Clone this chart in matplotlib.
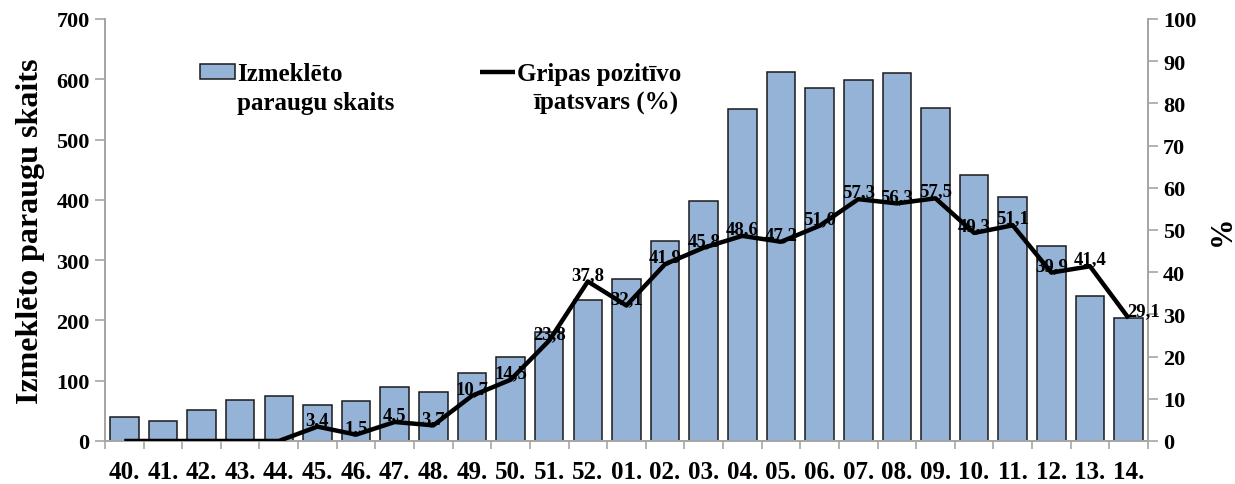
import numpy as np
import matplotlib
matplotlib.use("Agg")
import matplotlib.pyplot as plt

plt.rcParams["font.family"] = ["Liberation Serif", "DejaVu Serif"]
plt.rcParams["font.weight"] = "bold"

weeks = ["40.", "41.", "42.", "43.", "44.", "45.", "46.", "47.", "48.", "49.",
         "50.", "51.", "52.", "01.", "02.", "03.", "04.", "05.", "06.", "07.",
         "08.", "09.", "10.", "11.", "12.", "13.", "14."]
samples = [40, 33, 52, 68, 74, 60, 67, 89, 82, 113, 139, 181, 234, 269, 331,
           398, 551, 612, 585, 599, 610, 552, 441, 405, 324, 240, 204]
positive = [0, 0, 0, 0, 0, 3.4, 1.5, 4.5, 3.7, 10.7, 14.5, 23.8, 37.8, 32.1,
            41.9, 45.8, 48.6, 47.2, 51.0, 57.3, 56.3, 57.5, 49.3, 51.1, 39.9,
            41.4, 29.1]

GREY = "#A6A6A6"
BAR = "#95B3D7"

fig = plt.figure(figsize=(12.35, 4.85), dpi=100)
ax = fig.add_axes([0.085, 0.0887, 0.8445, 0.8701])
ax2 = ax.twinx()

x = np.arange(len(weeks))
ax.bar(x, samples, width=0.74, color=BAR, edgecolor="#1a1a1a", lw=1.1,
       label="Izmeklēto", zorder=2)
ax2.plot(x, positive, color="black", lw=3.2, solid_capstyle="butt",
         label="Gripas pozitīvo", zorder=3)

for i, v in enumerate(positive):
    if v == 0:
        continue
    dx = 0.4 if i == len(positive) - 1 else 0
    ax2.annotate(f"{v:.1f}".replace(".", ","), (x[i] + dx, v),
                 xytext=(0, -1), textcoords="offset points",
                 ha="center", va="bottom", fontsize=13.5, fontweight="bold")

ax.set_xlim(-0.5, len(weeks) - 0.5)
ax.set_ylim(0, 700)
ax2.set_ylim(0, 100)
ax.set_yticks(range(0, 701, 100))
ax2.set_yticks(range(0, 101, 10))
ax.set_xticks(x)
ax.set_xticklabels(weeks)
ax.set_xticks(np.arange(-0.5, len(weeks), 1), minor=True)
ax.tick_params(axis="x", which="major", length=0, pad=14, labelsize=18)
ax.tick_params(axis="x", which="minor", length=6, color=GREY, width=1.2)
ax.tick_params(axis="y", length=7, color=GREY, width=1.2, labelsize=16, pad=4)
ax2.tick_params(axis="y", length=7, color=GREY, width=1.2, labelsize=16, pad=4)
for lab in ax.get_xticklabels() + ax.get_yticklabels() + ax2.get_yticklabels():
    lab.set_fontweight("bold")

for a in (ax, ax2):
    a.spines["top"].set_visible(False)
    for s in ("left", "right", "bottom"):
        a.spines[s].set_color(GREY)
        a.spines[s].set_linewidth(1.4)

ax.set_ylabel("Izmeklēto paraugu skaits", fontsize=23, fontweight="bold",
              labelpad=8)
ax2.set_ylabel("%", fontsize=22, fontweight="bold", labelpad=8)

# legend: first lines with handles, second lines as plain text below
h1, l1 = ax.get_legend_handles_labels()
h2, l2 = ax2.get_legend_handles_labels()
ax2.legend(h1 + h2, l1 + l2, ncol=2, frameon=False,
           loc="center left", bbox_to_anchor=(0.091, 0.870),
           columnspacing=5.5, handlelength=1.4, handleheight=0.55,
           handletextpad=0.08, borderaxespad=0, borderpad=0,
           prop={"weight": "bold", "size": 18})
ax2.text(0.1266, 0.803, "paraugu skaits", transform=ax2.transAxes,
         ha="left", va="center", fontsize=18, fontweight="bold")
ax2.text(0.480, 0.803, "īpatsvars (%)", transform=ax2.transAxes,
         ha="center", va="center", fontsize=18, fontweight="bold")

fig.savefig("out.png", dpi=100)
